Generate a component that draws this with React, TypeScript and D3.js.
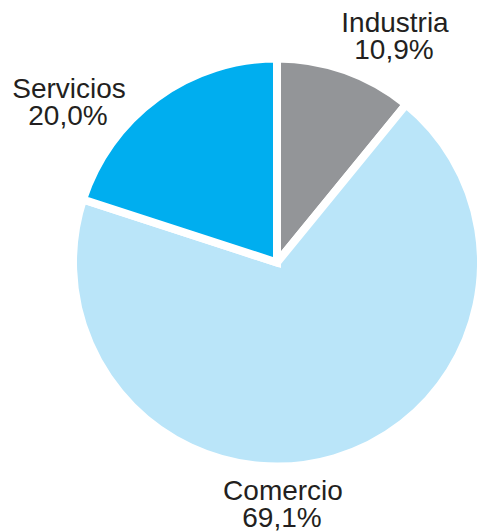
import React from "react";
import * as d3 from "d3";

const categories = ["Industria", "Comercio", "Servicios"];
const values = [10.9, 69.1, 20.0];
const valueLabels = ["10,9%", "69,1%", "20,0%"];
const colors = ["#939598", "#bae5f9", "#00aeef"];

// label anchor positions (layout)
const labelPos: [number, number][] = [
  [395, 32],
  [283, 500],
  [69, 98],
];

export default function App() {
  const W = 477, H = 532;
  const cx = 277, cy = 262.5, r = 204;
  const pie = d3.pie<number>().sort(null).value((d) => d)(values);
  const arc = d3.arc<d3.PieArcDatum<number>>().innerRadius(0).outerRadius(r);
  return (
    <svg width={W} height={H} style={{ position: "absolute", left: 0, top: 0 }}>
      <g transform={`translate(${cx},${cy})`}>
        {pie.map((p, i) => (
          <path key={i} d={arc(p) || ""} fill={colors[i]} stroke="#fff" strokeWidth={8} strokeLinejoin="miter" />
        ))}
      </g>
      {categories.map((c, i) => (
        <text
          key={c}
          x={labelPos[i][0]}
          y={labelPos[i][1]}
          textAnchor="middle"
          fontFamily="Liberation Sans, Arial, sans-serif"
          fontSize={28}
          fill="#231f20"
        >
          <tspan x={labelPos[i][0]}>{c}</tspan>
          <tspan x={labelPos[i][0] - 1} dy={26.5}>{valueLabels[i]}</tspan>
        </text>
      ))}
    </svg>
  );
}
